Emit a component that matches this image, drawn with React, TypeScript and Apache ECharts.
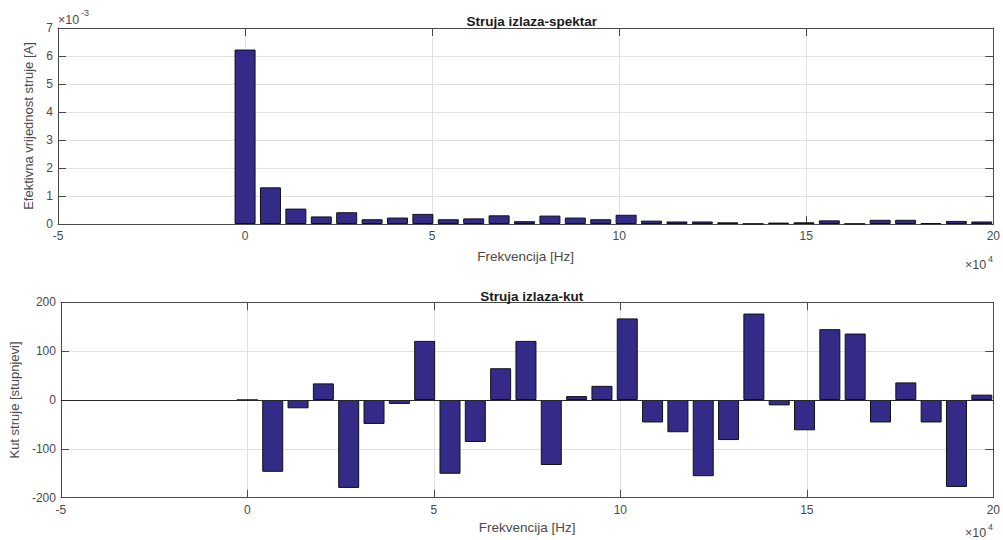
import React, { useEffect, useRef } from "react";
import * as echarts from "echarts";

// Frequencies of the spectral lines [Hz]
const frequencies = [
  0, 6790, 13580, 20370, 27160, 33950, 40740, 47530, 54320, 61110, 67900, 74690,
  81480, 88270, 95060, 101850, 108640, 115430, 122220, 129010, 135800, 142590,
  149380, 156170, 162960, 169750, 176540, 183330, 190120, 196910,
];

// RMS current amplitude, in units of 1e-3 A
const amplitudeE3 = [
  6.23, 1.31, 0.55, 0.27, 0.42, 0.17, 0.23, 0.36, 0.17, 0.2, 0.31, 0.1, 0.3,
  0.23, 0.17, 0.33, 0.12, 0.09, 0.09, 0.06, 0.01, 0.05, 0.06, 0.13, 0.01, 0.15,
  0.15, 0.03, 0.11, 0.09,
];

// Current phase angle [degrees]
const angleDeg = [
  0, -147, -17, 34, -180, -49, -8, 121, -151, -86, 65, 121, -133, 8, 29, 167,
  -46, -66, -156, -82, 177, -11, -62, 145, 136, -46, 36, -46, -178, 11,
];

const xTickLabelScale = 10000;
const titles = ["Struja izlaza-spektar", "Struja izlaza-kut"];
const xName = "Frekvencija [Hz]";
const yNames = ["Efektivna vrijednost struje [A]", "Kut struje [stupnjevi]"];

const FONT = "'Liberation Sans', Arial, Helvetica, sans-serif";
const AXIS = "#4a4a4a";
const GRIDC = "#e2e2e2";
const BAR = "#332b87";

const W = 1003;
const H = 540;
const LEFT = 58;
const PW = 937.5;
const G0 = { top: 28, h: 196 };
const G1 = { top: 302.3, h: 195.4 };

export default function App() {
  const ref = useRef<HTMLDivElement>(null);
  useEffect(() => {
    if (!ref.current) return;
    const chart = echarts.init(ref.current, undefined, { renderer: "svg" });

    const xBase = (gridIndex: number, isMain: boolean, nameGap: number) => ({
      type: "value" as const,
      gridIndex,
      position: isMain ? ("bottom" as const) : ("top" as const),
      min: -50000,
      max: 200000,
      interval: 50000,
      name: isMain ? xName : "",
      nameLocation: "middle" as const,
      nameGap,
      nameTextStyle: { color: AXIS, fontSize: 13.5, fontFamily: FONT },
      axisLine: { show: true, onZero: false, lineStyle: { color: AXIS, width: 1 } },
      axisTick: { show: true, inside: true, length: 8, lineStyle: { color: AXIS } },
      axisLabel: {
        show: isMain,
        color: AXIS,
        fontSize: 12,
        fontFamily: FONT,
        margin: 6,
        showMinLabel: true,
        showMaxLabel: true,
        formatter: (v: number) => String(Math.round(v / xTickLabelScale)),
      },
      splitLine: { show: isMain, lineStyle: { color: GRIDC, width: 1 } },
    });

    const yBase = (
      gridIndex: number,
      isMain: boolean,
      min: number,
      max: number,
      interval: number,
      name: string,
      nameGap: number
    ) => ({
      type: "value" as const,
      gridIndex,
      position: isMain ? ("left" as const) : ("right" as const),
      min,
      max,
      interval,
      name: isMain ? name : "",
      nameLocation: "middle" as const,
      nameGap,
      nameRotate: 90,
      nameTextStyle: { color: AXIS, fontSize: 13, fontFamily: FONT },
      axisLine: { show: true, onZero: false, lineStyle: { color: AXIS, width: 1 } },
      axisTick: { show: true, inside: true, length: 8, lineStyle: { color: AXIS } },
      axisLabel: {
        show: isMain,
        color: AXIS,
        fontSize: 12,
        fontFamily: FONT,
        margin: 5,
        showMinLabel: true,
        showMaxLabel: true,
        formatter: (v: number) => String(Math.round(v)),
      },
      splitLine: { show: isMain, lineStyle: { color: GRIDC, width: 1 } },
    });

    const cx = LEFT + PW / 2;

    chart.setOption({
      animation: false,
      backgroundColor: "#ffffff",
      textStyle: { fontFamily: FONT },
      title: [
        {
          text: titles[0],
          left: cx,
          top: 9,
          textAlign: "center",
          textStyle: { fontSize: 13.5, fontWeight: "bold", color: "#1a1a1a", fontFamily: FONT },
        },
        {
          text: titles[1],
          left: cx,
          top: 284,
          textAlign: "center",
          textStyle: { fontSize: 13.5, fontWeight: "bold", color: "#1a1a1a", fontFamily: FONT },
        },
      ],
      grid: [
        { left: LEFT, top: G0.top, width: PW, height: G0.h, containLabel: false },
        { left: LEFT, top: G1.top, width: PW, height: G1.h, containLabel: false },
      ],
      xAxis: [xBase(0, true, 25), xBase(0, false, 0), xBase(1, true, 22.5), xBase(1, false, 0)],
      yAxis: [
        yBase(0, true, 0, 7, 1, yNames[0], 16),
        yBase(0, false, 0, 7, 1, "", 0),
        yBase(1, true, -200, 200, 100, yNames[1], 33),
        yBase(1, false, -200, 200, 100, "", 0),
      ],
      series: [
        {
          type: "bar",
          xAxisIndex: 0,
          yAxisIndex: 0,
          barWidth: 21,
          data: frequencies.map((f, i) => [f, amplitudeE3[i]]),
          itemStyle: { color: BAR, borderColor: "#111111", borderWidth: 1 },
          silent: true,
        },
        {
          type: "bar",
          xAxisIndex: 2,
          yAxisIndex: 2,
          barWidth: 21,
          data: frequencies.map((f, i) => [f, angleDeg[i]]),
          itemStyle: { color: BAR, borderColor: "#111111", borderWidth: 1 },
          silent: true,
          markLine: {
            silent: true,
            symbol: ["none", "none"],
            label: { show: false },
            lineStyle: { color: "#262626", type: "solid", width: 1 },
            data: [{ yAxis: 0 }],
          },
        },
      ],
      graphic: [
        { type: "text", left: LEFT, top: 13, style: { text: "×10", fontSize: 12.5, fill: AXIS, fontFamily: FONT } },
        { type: "text", left: LEFT + 23, top: 8, style: { text: "-3", fontSize: 9, fill: AXIS, fontFamily: FONT } },
        { type: "text", left: 965, top: 258, style: { text: "×10", fontSize: 12.5, fill: AXIS, fontFamily: FONT } },
        { type: "text", left: 988, top: 254, style: { text: "4", fontSize: 9, fill: AXIS, fontFamily: FONT } },
        { type: "text", left: 965, top: 526, style: { text: "×10", fontSize: 12.5, fill: AXIS, fontFamily: FONT } },
        { type: "text", left: 988, top: 522, style: { text: "4", fontSize: 9, fill: AXIS, fontFamily: FONT } },
      ],
    });
    return () => chart.dispose();
  }, []);

  return (
    <div
      ref={ref}
      style={{ position: "absolute", left: 0, top: 0, width: W, height: H, background: "#fff" }}
    />
  );
}
